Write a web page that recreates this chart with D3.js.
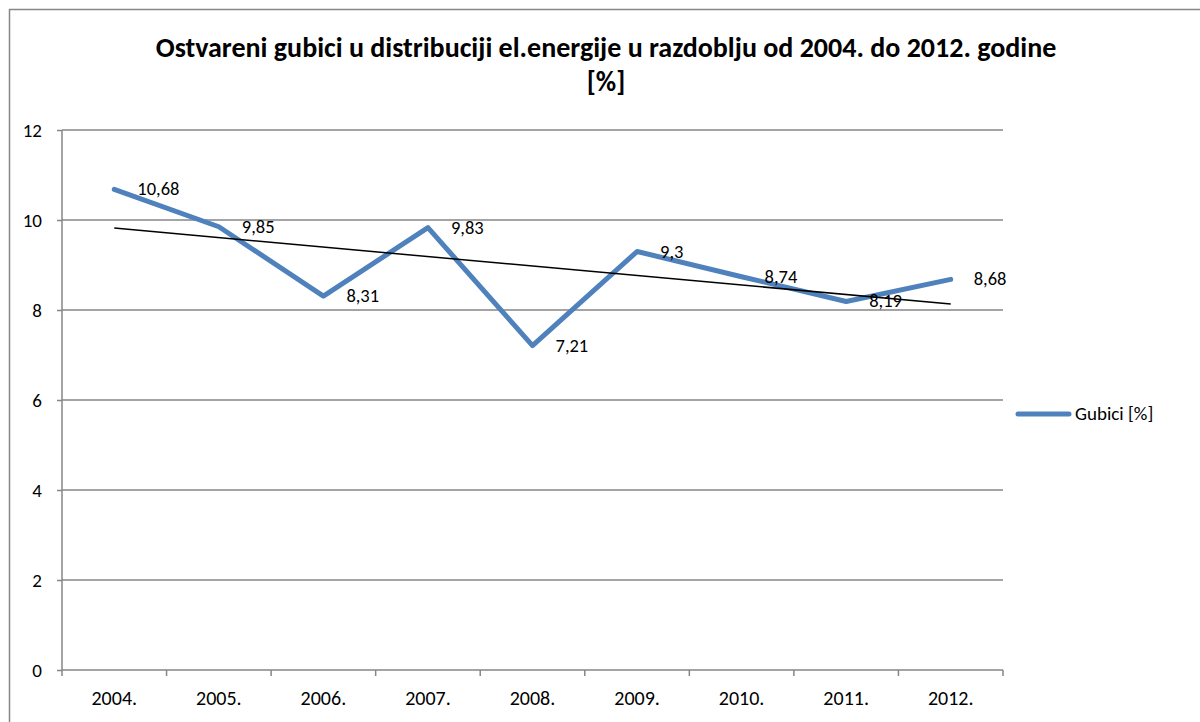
<!DOCTYPE html>
<html>
<head>
<meta charset="utf-8">
<script src="https://cdn.jsdelivr.net/npm/d3@7"></script>
<style>
  body { margin: 0; background: #fff; }
  svg text { font-family: Calibri, Carlito, Lato, "Open Sans", sans-serif; fill: #000; }
</style>
</head>
<body>
<div id="chart"></div>
<script>
// chart data
let years = ["2004.", "2005.", "2006.", "2007.", "2008.", "2009.", "2010.", "2011.", "2012."];
let losses = [10.68, 9.85, 8.31, 9.83, 7.21, 9.3, 8.74, 8.19, 8.68];
let yTicks = [0, 2, 4, 6, 8, 10, 12];
let seriesName = "Gubici [%]";
let titleLines = ["Ostvareni gubici u distribuciji el.energije u razdoblju od 2004. do 2012. godine", "[%]"];

let W = 1200, H = 722;
let margin = {top: 130, right: 197, bottom: 52, left: 62},
    width = W - margin.left - margin.right,
    height = H - margin.top - margin.bottom;

let root = d3.select("#chart")
    .append("svg")
    .attr("width", W)
    .attr("height", H);

// outer chart border
root.append("rect")
    .attr("x", 9.5)
    .attr("y", 9.5)
    .attr("width", W)
    .attr("height", H)
    .attr("fill", "none")
    .attr("stroke", "#868686")
    .attr("stroke-width", 1.5);

// title
root.append("text")
    .attr("x", 606)
    .attr("y", 0)
    .attr("text-anchor", "middle")
    .style("font-size", "28px")
    .style("font-weight", "bold")
    .selectAll("tspan")
    .data(titleLines)
    .enter()
    .append("tspan")
    .attr("x", 606)
    .attr("y", function(d, i) { return 57 + i * 34; })
    .text(function(d) { return d; });

let svg = root.append("g")
    .attr("transform", "translate(" + margin.left + "," + margin.top + ")");

// scales
let x = d3.scaleBand()
    .domain(years)
    .range([0, width]);

let y = d3.scaleLinear()
    .domain([0, 12])
    .range([height, 0]);

// gridlines
svg.append("g")
    .selectAll("line")
    .data(yTicks.filter(function(d) { return d > 0; }))
    .enter()
    .append("line")
    .attr("x1", 0)
    .attr("x2", width)
    .attr("y1", function(d) { return y(d); })
    .attr("y2", function(d) { return y(d); })
    .attr("stroke", "#868686")
    .attr("stroke-width", 1.5);

// Y axis
let yAxis = svg.append("g")
    .call(d3.axisLeft(y).tickValues(yTicks).tickSize(5).tickPadding(15).tickFormat(d3.format("d")));
yAxis.selectAll("line").attr("stroke", "#868686").attr("stroke-width", 1.5);
yAxis.select(".domain").attr("stroke", "#868686").attr("stroke-width", 1.5).attr("d", "M0,0V" + height);
yAxis.selectAll("text").style("font-size", "19px").style("font-family", "Calibri, Carlito, Lato, 'Open Sans', sans-serif");

// X axis with ticks between categories
let xAxis = svg.append("g")
    .attr("transform", "translate(0," + height + ")");
xAxis.append("line")
    .attr("x1", 0)
    .attr("x2", width)
    .attr("stroke", "#868686")
    .attr("stroke-width", 1.5);
xAxis.selectAll(".tk")
    .data(d3.range(years.length + 1))
    .enter()
    .append("line")
    .attr("class", "tk")
    .attr("x1", function(i) { return i * x.step(); })
    .attr("x2", function(i) { return i * x.step(); })
    .attr("y1", 0)
    .attr("y2", 6)
    .attr("stroke", "#868686")
    .attr("stroke-width", 1.5);
xAxis.selectAll(".lbl")
    .data(years)
    .enter()
    .append("text")
    .attr("class", "lbl")
    .attr("x", function(d) { return x(d) + x.bandwidth() / 2; })
    .attr("y", 35)
    .attr("text-anchor", "middle")
    .style("font-size", "20px")
    .text(function(d) { return d; });

let data = years.map(function(d, i) { return {year: d, value: losses[i]}; });
let cx = function(d) { return x(d.year) + x.bandwidth() / 2; };

// series line
svg.append("path")
    .datum(data)
    .attr("fill", "none")
    .attr("stroke", "#4F81BD")
    .attr("stroke-width", 5)
    .attr("stroke-linejoin", "round")
    .attr("stroke-linecap", "round")
    .attr("d", d3.line()
        .x(cx)
        .y(function(d) { return y(d.value); })
    );

// linear trendline (least squares over the series)
let n = losses.length;
let mx = d3.mean(d3.range(n)), my = d3.mean(losses);
let slope = d3.sum(losses, function(v, i) { return (i - mx) * (v - my); }) /
            d3.sum(d3.range(n), function(i) { return (i - mx) * (i - mx); });
let trend = data.map(function(d, i) { return {year: d.year, value: my + slope * (i - mx)}; });
svg.append("path")
    .datum([trend[0], trend[n - 1]])
    .attr("fill", "none")
    .attr("stroke", "#000")
    .attr("stroke-width", 1.5)
    .attr("d", d3.line()
        .x(cx)
        .y(function(d) { return y(d.value); })
    );

// data labels
svg.selectAll(".dl")
    .data(data)
    .enter()
    .append("text")
    .attr("class", "dl")
    .attr("x", function(d) { return cx(d) + 23; })
    .attr("y", function(d) { return y(d.value) + 6; })
    .style("font-size", "18.5px")
    .text(function(d) { return String(d.value).replace(".", ","); });

// legend
let legend = root.append("g")
    .attr("transform", "translate(1016,414)");
legend.append("line")
    .attr("x1", 2)
    .attr("x2", 53)
    .attr("stroke", "#4F81BD")
    .attr("stroke-width", 5)
    .attr("stroke-linecap", "round");
legend.append("text")
    .attr("x", 59)
    .attr("y", 6)
    .style("font-size", "19px")
    .text(seriesName);
</script>
</body>
</html>
